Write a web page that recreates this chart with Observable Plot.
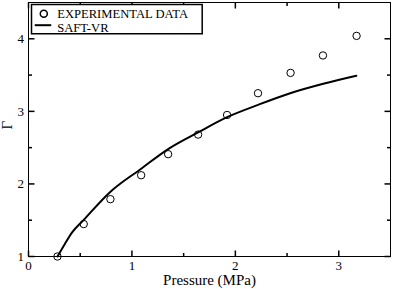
<!DOCTYPE html>
<html>
<head>
<meta charset="utf-8">
<script src="https://cdn.jsdelivr.net/npm/d3@7"></script>
<script src="https://cdn.jsdelivr.net/npm/@observablehq/plot@0.6"></script>
<style>
  html, body { margin: 0; padding: 0; background: white; }
</style>
</head>
<body>
<div id="chart"></div>
<script>
// Experimental data (pressure in MPa, Γ)
const expPressure = [0.28, 0.534, 0.792, 1.089, 1.35, 1.64, 1.92, 2.219, 2.534, 2.847, 3.172];
const expGamma    = [1.00, 1.447, 1.79, 2.12, 2.41, 2.68, 2.95, 3.25, 3.53, 3.77, 4.04];

// SAFT-VR curve
const saftPressure = [0.28, 0.35, 0.42, 0.534, 0.79, 1.09, 1.35, 1.64, 1.92, 2.22, 2.53, 2.85, 3.17];
const saftGamma    = [1.00, 1.17, 1.33, 1.505, 1.89, 2.21, 2.48, 2.71, 2.92, 3.09, 3.25, 3.38, 3.49];

// Axes
const xDomain = [0, 3.5];
const yDomain = [1, 4.5];
const xMajor = [0, 1, 2, 3];
const xMinor = [0.5, 1.5, 2.5];
const yMajor = [1, 2, 3, 4];
const yMinor = [1.5, 2.5, 3.5];

const legendLabels = ["EXPERIMENTAL DATA", "SAFT-VR"];
const xLabel = "Pressure (MPa)";
const yLabel = "Γ";

const expData = expPressure.map((p, i) => ({p, g: expGamma[i]}));
const saftData = saftPressure.map((p, i) => ({p, g: saftGamma[i]}));

const seg = (dx, dy) => ({draw(ctx) { ctx.moveTo(0, 0); ctx.lineTo(dx, dy); }});
const box = (w, h) => ({draw(ctx) { ctx.rect(0, 0, w, h); }});
const hline = (w) => ({draw(ctx) { ctx.moveTo(-w / 2, 0); ctx.lineTo(w / 2, 0); }});

const MAJ = 6, MIN = 3.5;
const tickMarks = [
  Plot.dot(xMajor, {x: d => d, y: yDomain[0], symbol: seg(0, -MAJ), stroke: "black"}),
  Plot.dot(xMinor, {x: d => d, y: yDomain[0], symbol: seg(0, -MIN), stroke: "black"}),
  Plot.dot(xMajor, {x: d => d, y: yDomain[1], symbol: seg(0, MAJ), stroke: "black"}),
  Plot.dot(xMinor, {x: d => d, y: yDomain[1], symbol: seg(0, MIN), stroke: "black"}),
  Plot.dot(yMajor, {y: d => d, x: xDomain[0], symbol: seg(MAJ, 0), stroke: "black"}),
  Plot.dot(yMinor, {y: d => d, x: xDomain[0], symbol: seg(MIN, 0), stroke: "black"}),
  Plot.dot(yMajor, {y: d => d, x: xDomain[1], symbol: seg(-MAJ, 0), stroke: "black"}),
  Plot.dot(yMinor, {y: d => d, x: xDomain[1], symbol: seg(-MIN, 0), stroke: "black"})
];

const chart = Plot.plot({
  width: 393,
  height: 289,
  marginLeft: 28,
  marginRight: 3,
  marginTop: 2,
  marginBottom: 33,
  style: {fontFamily: "'Liberation Serif', 'Times New Roman', serif", fontSize: "13px", background: "white", color: "black"},
  x: {domain: xDomain},
  y: {domain: yDomain},
  marks: [
    ...tickMarks,
    Plot.line(saftData, {x: "p", y: "g", stroke: "black", strokeWidth: 2, curve: "monotone-x"}),
    Plot.dot(expData, {x: "p", y: "g", r: 3.7, stroke: "black", strokeWidth: 1, fill: "none"}),
    Plot.frame({stroke: "black"}),
    Plot.axisX({ticks: xMajor, tickSize: 0, tickPadding: 4, label: null, tickFormat: d => String(d), fontSize: 13}),
    Plot.axisY({ticks: yMajor, tickSize: 0, tickPadding: 4.5, label: null, tickFormat: d => String(d), fontSize: 13}),
    Plot.text([xLabel], {frameAnchor: "bottom", lineAnchor: "top", dy: 18, text: d => d, fontSize: 15}),
    Plot.text([yLabel], {frameAnchor: "left", rotate: -90, dx: -21, text: d => d, fontSize: 15}),
    // legend
    Plot.dot([0], {frameAnchor: "top-left", dx: 3, dy: 2, symbol: box(170.7, 29.3), fill: "white", stroke: "black"}),
    Plot.dot([0], {frameAnchor: "top-left", dx: 15.3, dy: 11.3, r: 3.5, stroke: "black", fill: "none"}),
    Plot.dot([0], {frameAnchor: "top-left", dx: 14.5, dy: 22.7, symbol: hline(16.5), stroke: "black", strokeWidth: 2}),
    Plot.text([legendLabels[0]], {frameAnchor: "top-left", textAnchor: "start", lineAnchor: "top", dx: 28.7, dy: 6.4, text: d => d, fontSize: 12.6}),
    Plot.text([legendLabels[1]], {frameAnchor: "top-left", textAnchor: "start", lineAnchor: "top", dx: 28.7, dy: 20.6, text: d => d, fontSize: 12.6})
  ]
});
document.getElementById("chart").appendChild(chart);
</script>
</body>
</html>
